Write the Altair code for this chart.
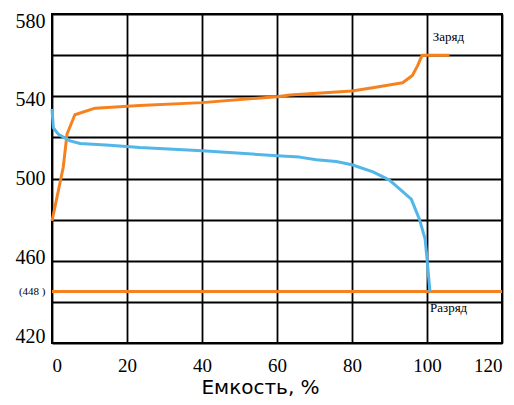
import altair as alt
import pandas as pd

# Charge curve (Заряд)
charge_x = [0, 3.0, 4.0, 6.1, 11.5, 23.4, 40, 60, 63.4, 80, 85.5, 93.5, 96.1, 97.5, 98.7, 106]
charge_y = [479.3, 505.5, 521.5, 531.0, 534.2, 535.5, 536.9, 539.8, 540.6, 542.6, 544.1, 546.6, 550.1, 554.9, 560, 560]

# Discharge curve (Разряд)
discharge_x = [0, 0.35, 1.7, 4.8, 7.5, 15.4, 23.4, 40, 60, 66, 70.5, 75.8, 80, 85.6, 90, 95.8, 98, 99.5, 100, 100.8]
discharge_y = [533.9, 524.6, 521.5, 518.3, 517.0, 516.2, 515.1, 513.5, 511.1, 510.4, 509.1, 508.3, 506.7, 503.2, 499.2, 490.0, 480.1, 470.5, 461.0, 444.8]

# Cut-off level line
cutoff_x = [0, 120]
cutoff_y = [445, 445]

# Curve labels
label_text = ["Заряд", "Разряд"]
label_x = [101.5, 100.8]
label_y = [567, 435]

x_ticks = [0, 20, 40, 60, 80, 100, 120]
y_ticks = [420, 440, 445, 460, 480, 500, 520, 540, 560, 580]

ORANGE = "#F5821F"
BLUE = "#52B6E8"
SERIF = "Liberation Serif"

charge = pd.DataFrame({"x": charge_x, "y": charge_y, "i": range(len(charge_x))})
discharge = pd.DataFrame({"x": discharge_x, "y": discharge_y, "i": range(len(discharge_x))})
cutoff = pd.DataFrame({"x": cutoff_x, "y": cutoff_y, "i": range(len(cutoff_x))})
labels = pd.DataFrame({"t": label_text, "x": label_x, "y": label_y})

xs = alt.Scale(domain=[0, 120], nice=False, zero=False)
ys = alt.Scale(domain=[420, 580], nice=False, zero=False)

x_axis = alt.Axis(
    values=x_ticks, tickCount=20, grid=True, ticks=False, domain=False, labelOverlap=False,
    labelFont=SERIF, labelFontSize=19, labelColor="black",
    labelPadding=13, labelBaseline="top",
    title="Емкость, %", titleFont="DejaVu Sans", titleFontSize=20,
    titleFontWeight="normal", titleColor="black",
    titleX=208, titleY=50, titleBaseline="alphabetic", titleAnchor="middle",
)
y_axis = alt.Axis(
    values=y_ticks, tickCount=20, grid=True, ticks=False, domain=False, labelOverlap=False,
    labelFont=SERIF, labelColor="black",
    labelFontSize=alt.ExprRef("datum.value == 445 ? 11 : 20"),
    labelOffset=alt.ExprRef("datum.value == 445 ? 0 : (datum.value - 496) * 0.085"),
    gridOpacity=alt.ExprRef("datum.value == 445 ? 0 : 1"),
    labelExpr="datum.value == 445 ? '(448 )' : ((datum.value - 420) % 40 == 0 ? datum.label : '')",
    labelPadding=7, labelBaseline="middle", title=None,
)

line_charge = alt.Chart(charge).mark_line(color=ORANGE, strokeWidth=3, strokeJoin="round").encode(
    x=alt.X("x:Q", scale=xs, axis=x_axis),
    y=alt.Y("y:Q", scale=ys, axis=y_axis),
    order="i:Q",
)
line_cutoff = alt.Chart(cutoff).mark_line(color=ORANGE, strokeWidth=3).encode(
    x=alt.X("x:Q", scale=xs), y=alt.Y("y:Q", scale=ys), order="i:Q"
)
line_discharge = alt.Chart(discharge).mark_line(color=BLUE, strokeWidth=3, strokeJoin="round").encode(
    x=alt.X("x:Q", scale=xs), y=alt.Y("y:Q", scale=ys), order="i:Q"
)
text = alt.Chart(labels).mark_text(
    font=SERIF, fontSize=13, color="black", align="left", baseline="alphabetic"
).encode(x=alt.X("x:Q", scale=xs), y=alt.Y("y:Q", scale=ys), text="t:N")

chart = alt.layer(line_charge, line_cutoff, line_discharge, text).properties(
    width=450, height=329,
    background="white",
    autosize=alt.AutoSizeParams(type="none"),
    padding={"left": 44, "top": 6, "right": 4, "bottom": 54},
).configure_view(stroke="black", strokeWidth=2).configure_axis(
    gridColor="black", gridWidth=1.8, labelFont=SERIF
).configure_axisX(labelFont=SERIF)

chart.save("out.html", embed_options={"renderer": "svg", "actions": False})
